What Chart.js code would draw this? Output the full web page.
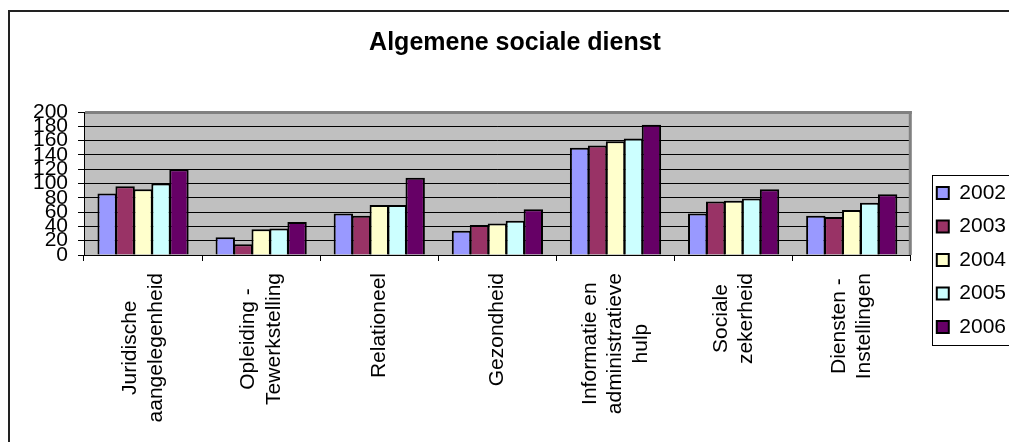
<!DOCTYPE html>
<html><head><meta charset="utf-8">
<script src="https://cdn.jsdelivr.net/npm/chart.js@4.4.1/dist/chart.umd.min.js"></script>
<style>html,body{margin:0;padding:0;background:#fff;overflow:hidden}canvas{display:block}</style>
</head><body>
<canvas id="c" width="1009" height="442"></canvas>
<script>
const chartTitle = 'Algemene sociale dienst';
const categories = [
  ['Juridische', 'aangelegenheid'],
  ['Opleiding -', 'Tewerkstelling'],
  'Relationeel',
  'Gezondheid',
  ['Informatie en', 'administratieve', 'hulp'],
  ['Sociale', 'zekerheid'],
  ['Diensten -', 'Instellingen']
];
const seriesNames = ['2002', '2003', '2004', '2005', '2006'];
const values2002 = [86, 25, 58, 34, 150, 58, 55];
const values2003 = [96, 15, 55, 42, 153, 75, 53];
const values2004 = [92, 36, 70, 44, 159, 76, 63];
const values2005 = [100, 37, 70, 48, 163, 79, 73];
const values2006 = [120, 46, 108, 64, 182, 92, 85];
const yTickLabels = [0, 20, 40, 60, 80, 100, 120, 140, 160, 180, 200];

const FONT = "'Liberation Sans', Arial, sans-serif";
const seriesColors = ['#9999FF', '#993366', '#FFFFCC', '#CCFFFF', '#660066'];
const seriesValues = [values2002, values2003, values2004, values2005, values2006];

const datasets = seriesNames.map((name, i) => ({
  label: name,
  data: seriesValues[i],
  backgroundColor: seriesColors[i],
  borderColor: '#000000',
  borderWidth: 2,
  borderSkipped: 'start',
  categoryPercentage: 0.76,
  barPercentage: 1.08,
  xAxisID: 'x',
  yAxisID: 'y'
}));

const framePlugin = {
  id: 'framePlugin',
  beforeDraw(chart) {
    const {ctx, chartArea: a} = chart;
    ctx.save();
    ctx.fillStyle = '#ffffff';
    ctx.fillRect(0, 0, chart.width, chart.height);
    ctx.strokeStyle = '#222222';
    ctx.lineWidth = 2;
    ctx.strokeRect(9, 11, chart.width + 20, chart.height + 20);
    ctx.fillStyle = '#C0C0C0';
    ctx.fillRect(a.left, a.top, a.right - a.left, a.bottom - a.top);
    ctx.restore();
  },
  afterDraw(chart) {
    const {ctx, chartArea: a} = chart;
    ctx.save();
    // plot area border (top/right)
    ctx.fillStyle = '#808080';
    ctx.fillRect(a.left + 1, a.top - 1, a.right - a.left, 3);
    ctx.fillRect(a.right - 2, a.top - 1, 3, a.bottom - a.top + 1);
    // legend frame
    const hb = chart.legend.legendHitBoxes;
    if (hb && hb.length) {
      const first = hb[0], last = hb[hb.length - 1];
      ctx.strokeStyle = '#000000';
      ctx.lineWidth = 1;
      const lx = Math.round(first.left - 5) + 0.5;
      const ty = Math.round(first.top - 7.5) + 0.5;
      const by = Math.round(last.top + last.height + 7.5) + 0.5;
      ctx.strokeRect(lx, ty, chart.width + 20 - lx, by - ty);
    }
    // category labels, rotated, lines centred on the category
    const xs = chart.scales.x;
    ctx.fillStyle = '#000000';
    ctx.font = '21px ' + FONT;
    ctx.textAlign = 'center';
    ctx.textBaseline = 'middle';
    const lh = 25.5;
    categories.forEach((lab, i) => {
      const lines = Array.isArray(lab) ? lab : [lab];
      const maxW = Math.max(...lines.map(l => ctx.measureText(l).width));
      const px = xs.getPixelForValue(i);
      const cy = xs.top + 18 + maxW / 2;
      lines.forEach((ln, j) => {
        ctx.save();
        ctx.translate(px + (j - (lines.length - 1) / 2) * lh, cy);
        ctx.rotate(-Math.PI / 2);
        ctx.fillText(ln, 0, 0);
        ctx.restore();
      });
    });
    ctx.restore();
  }
};

new Chart(document.getElementById('c'), {
  type: 'bar',
  data: { labels: categories, datasets },
  plugins: [framePlugin],
  options: {
    responsive: false,
    animation: false,
    devicePixelRatio: 1,
    layout: { padding: { left: 14, right: -7, top: 12, bottom: -66 } },
    plugins: {
      title: {
        display: true,
        text: chartTitle,
        color: '#000000',
        font: { family: FONT, size: 25, weight: 'bold' },
        padding: { top: 16.3, bottom: 53.7 }
      },
      legend: {
        position: 'right',
        align: 'center',
        labels: {
          color: '#000000',
          font: { family: FONT, size: 21 },
          boxWidth: 12,
          boxHeight: 12,
          padding: 12.5
        }
      },
      tooltip: { enabled: false }
    },
    scales: {
      x: {
        grid: { drawOnChartArea: false, drawTicks: true, tickLength: 6, color: '#000000' },
        border: { color: '#000000', width: 1 },
        ticks: { display: false },
        afterFit: s => { s.height = 253; }
      },
      y: {
        min: yTickLabels[0],
        max: yTickLabels[yTickLabels.length - 1],
        ticks: {
          stepSize: yTickLabels[1] - yTickLabels[0],
          autoSkip: false,
          color: '#000000',
          font: { family: FONT, size: 21 },
          padding: 10
        },
        grid: { color: '#000000', lineWidth: 1, tickLength: 6 },
        border: { color: '#000000', width: 1 },
        afterFit: s => { s.width = 70; }
      },
      pad: {
        type: 'linear',
        position: 'right',
        display: true,
        grid: { display: false },
        ticks: { display: false },
        border: { display: false },
        afterFit: s => { s.width = 13.5; }
      }
    }
  }
});
</script>
</body></html>
